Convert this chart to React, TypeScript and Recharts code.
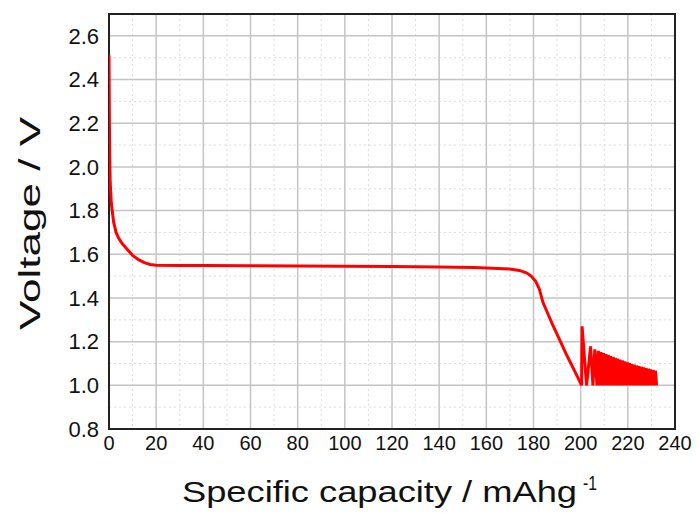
import { CartesianGrid, Label, Line, LineChart, ReferenceArea, XAxis, YAxis } from 'recharts';

// discharge curve
const capacity = [
  0, 0.15, 0.3, 0.5, 1, 2, 3, 4, 5.5, 7.5, 10, 12.5, 15, 17.5, 20,
  30, 40, 60, 80, 100, 120, 140, 155, 165, 170, 174, 177, 179, 181, 182.5, 184, 186, 188, 191, 194, 197, 200.4,
  200.6, 202.5, 204.2, 205.2, 206.0, 206.9, 207.5, 208.2, 208.6, 209.3,
  209.7, 210.5, 210.7, 211.5, 211.7, 212.5, 212.7, 213.5, 213.7, 214.5, 214.7, 215.5,
  215.7, 216.5, 216.7, 217.5, 217.7, 218.5, 218.7, 219.5, 219.7, 220.5, 220.7, 221.5,
  221.7, 222.5, 222.7, 223.5, 223.7, 224.5, 224.7, 225.5, 225.7, 226.5, 226.7, 227.5,
  227.7, 228.5, 228.7, 229.5, 229.7, 230.5, 230.7, 231.5, 231.7, 232.2,
];
const voltage = [
  2.51, 2.25, 2.05, 1.93, 1.83, 1.745, 1.7, 1.675, 1.65, 1.625, 1.595, 1.575, 1.562, 1.553, 1.55,
  1.549, 1.548, 1.547, 1.546, 1.545, 1.544, 1.542, 1.539, 1.535, 1.532, 1.526, 1.515, 1.5, 1.475, 1.44, 1.38, 1.33, 1.28, 1.21, 1.14, 1.075, 1.0,
  1.27, 1.0, 1.178, 1.0, 1.165, 1.0, 1.158, 1.0, 1.152, 1.0,
  1.148, 1.0, 1.143, 1.0, 1.139, 1.0, 1.134, 1.0, 1.13, 1.0, 1.126, 1.0,
  1.122, 1.0, 1.118, 1.0, 1.114, 1.0, 1.11, 1.0, 1.106, 1.0, 1.102, 1.0,
  1.098, 1.0, 1.095, 1.0, 1.091, 1.0, 1.088, 1.0, 1.085, 1.0, 1.082, 1.0,
  1.079, 1.0, 1.076, 1.0, 1.073, 1.0, 1.07, 1.0, 1.067, 1.0,
];

const xTicks = [0, 20, 40, 60, 80, 100, 120, 140, 160, 180, 200, 220, 240];
const xMinor = [10, 30, 50, 70, 90, 110, 130, 150, 170, 190, 210, 230];
const yTicks = [0.8, 1.0, 1.2, 1.4, 1.6, 1.8, 2.0, 2.2, 2.4, 2.6];
const yMinor = [0.9, 1.1, 1.3, 1.5, 1.7, 1.9, 2.1, 2.3, 2.5];

const data = capacity.map((c, i) => ({ c, v: voltage[i] }));

const font = '"Liberation Sans", Arial, sans-serif';
const textColor = '#111';

function XTitle(props: any) {
  const { x, y, width } = props.viewBox;
  const cx = x + width / 2;
  return (
    <g fontFamily={font} fill={textColor}>
      <text x={cx - 210} y={y + 73} fontSize={30} textLength={395} lengthAdjust="spacingAndGlyphs">
        Specific capacity / mAhg
      </text>
      <text x={cx + 191} y={y + 61} fontSize={20} textLength={14} lengthAdjust="spacingAndGlyphs">
        -1
      </text>
    </g>
  );
}

function YTitle(props: any) {
  const { y, height } = props.viewBox;
  const cy = y + height / 2 + 2;
  return (
    <text
      x={40}
      y={cy}
      transform={`rotate(-90, 40, ${cy})`}
      textAnchor="middle"
      fontFamily={font}
      fill={textColor}
      fontSize={30}
      textLength={213}
      lengthAdjust="spacingAndGlyphs"
    >
      Voltage / V
    </text>
  );
}

export default function App() {
  return (
    <div style={{ position: 'absolute', left: 0, top: 0, background: '#fff' }}>
      <LineChart width={699} height={513} data={data} margin={{ top: 14, right: 24, left: 0, bottom: 0 }}>
        <CartesianGrid verticalValues={xMinor} horizontalValues={yMinor} stroke="#dcdcdc" strokeDasharray="2 3" />
        <CartesianGrid stroke="#c4c4c4" strokeWidth={1.5} />
        <XAxis
          type="number"
          dataKey="c"
          domain={[0, 240]}
          ticks={xTicks}
          allowDataOverflow
          height={84}
          tickLine={false}
          axisLine={false}
          tickSize={0}
          tickMargin={7}
          tick={{ fontSize: 20, fill: textColor, fontFamily: font }}
        >
          <Label content={XTitle} />
        </XAxis>
        <YAxis
          type="number"
          domain={[0.8, 2.7]}
          ticks={yTicks}
          allowDataOverflow
          width={109}
          tickLine={false}
          axisLine={false}
          tickSize={0}
          tickMargin={10}
          tickFormatter={(v: number) => v.toFixed(1)}
          tick={{ fontSize: 22, fill: textColor, fontFamily: font }}
        >
          <Label content={YTitle} />
        </YAxis>
        <Line type="linear" dataKey="v" stroke="#ff0000" strokeWidth={3} dot={false} isAnimationActive={false} />
        <ReferenceArea x1={0} x2={240} y1={0.8} y2={2.7} fill="none" stroke="#222" strokeWidth={2} />
      </LineChart>
    </div>
  );
}
